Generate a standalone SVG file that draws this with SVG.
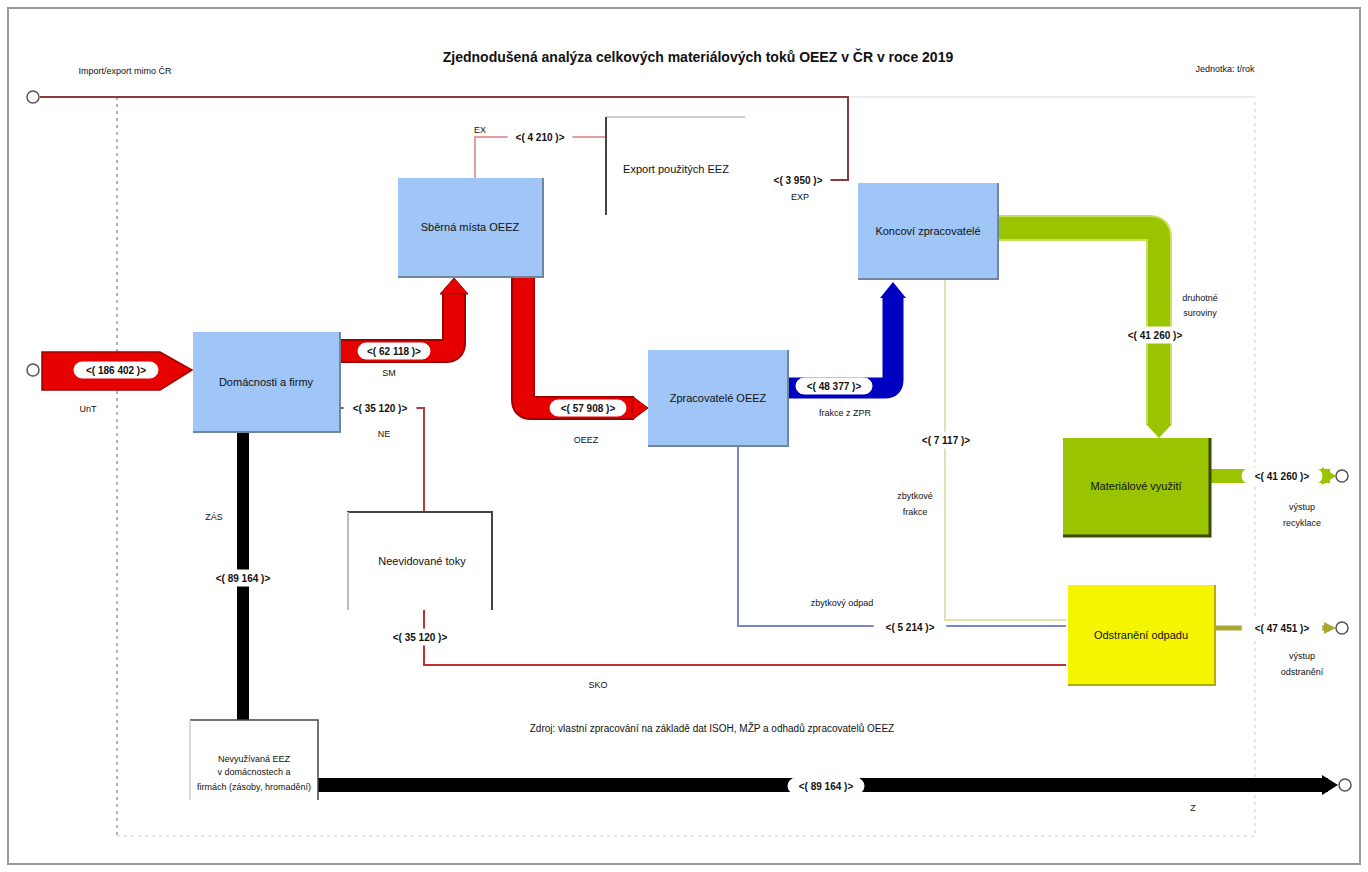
<svg xmlns="http://www.w3.org/2000/svg" width="1368" height="872" viewBox="0 0 1368 872">
<defs>
<style>
text{font-family:"Liberation Sans",Arial,sans-serif;fill:#111}
.nt{font-size:11px;text-anchor:middle}
.sm{font-size:9px;text-anchor:middle}
.lt{font-size:10px;text-anchor:middle;font-weight:bold}
.bl{fill:#9fc6f6;stroke:none}
.sh{fill:none;stroke:#70869c;stroke-width:2}
.lb rect{fill:#fff;stroke:#fff}
.lb line{stroke:#111;stroke-width:1.2}
.end{fill:#fff;stroke:#555;stroke-width:1.5}
.thin{fill:none;stroke-width:2}
</style>
<marker id="ah" viewBox="0 0 10 10" refX="9" refY="5" markerWidth="6" markerHeight="6" orient="auto"><path d="M0,0L10,5L0,10z" fill="#444"/></marker>
</defs>
<rect x="8" y="8" width="1352" height="856" fill="#fff" stroke="#9a9a9a" stroke-width="2"/>
<g id="boundary">
<line x1="117" y1="97" x2="117" y2="836" stroke="#999" stroke-width="1.5" stroke-dasharray="3,4"/>
<path d="M117,836H1255V97" fill="none" stroke="#ddd" stroke-width="1.5" stroke-dasharray="3,4"/>
<line x1="850" y1="97" x2="1255" y2="97" stroke="#e6e6e6" stroke-width="1.5"/>
</g>
<text x="698" y="62" style="font-size:14px;font-weight:bold;text-anchor:middle">Zjednodušená analýza celkových materiálových toků OEEZ v ČR v roce 2019</text>
<text x="125" y="74" class="sm">Import/export mimo ČR</text>
<text x="1225" y="72" class="sm">Jednotka: t/rok</text>
<text x="712" y="732" style="font-size:10px;text-anchor:middle">Zdroj: vlastní zpracování na základě dat ISOH, MŽP a odhadů zpracovatelů OEEZ</text>

<g id="connectors">
<!-- export line -->
<path d="M40,97H848V180H830" class="thin" stroke="#8c3c3c" stroke-width="1.5"/>
<path d="M475,178V137H606" class="thin" stroke="#e0a0a0" stroke-width="1.5"/>
<!-- input -->
<path d="M42,352H160L192,370L160,390H42z" fill="#e60000" stroke="#a00000" stroke-width="1.5"/>
<!-- 1 -> 2 -->
<path d="M340,351H446Q454,351 454,343V292" fill="none" stroke="#a00000" stroke-width="24"/>
<path d="M340,351H446Q454,351 454,343V292" fill="none" stroke="#e60000" stroke-width="20"/>
<path d="M440,294L454,278L468,294z" fill="#e60000" stroke="#a00000"/>
<!-- 2 -> 3 -->
<path d="M523,277V400Q523,408 531,408H634" fill="none" stroke="#a00000" stroke-width="24"/>
<path d="M523,277V400Q523,408 531,408H634" fill="none" stroke="#e60000" stroke-width="20"/>
<path d="M632,396L648,408L632,420z" fill="#e60000" stroke="#a00000"/>
<!-- 3 -> 4 -->
<path d="M788,388H885Q893,388 893,380V296" fill="none" stroke="#0000c0" stroke-width="21"/>
<path d="M880,298L893,282L906,298z" fill="#0000c0"/>
<!-- 4 -> recycling -->
<path d="M998,228H1150Q1159,228 1159,237V424" fill="none" stroke="#c8e060" stroke-width="26"/>
<path d="M998,228H1150Q1159,228 1159,237V424" fill="none" stroke="#9ac400" stroke-width="22"/>
<path d="M1146,424L1159,438L1172,424z" fill="#9ac400"/>
<!-- recycling out -->
<path d="M1210,476H1330" fill="none" stroke="#9ac400" stroke-width="14"/>
<path d="M1322,467L1336,476L1322,485z" fill="#9ac400"/>
<!-- yellow out -->
<path d="M1215,628H1330" fill="none" stroke="#a8a830" stroke-width="5"/>
<path d="M1324,622L1336,628L1324,634z" fill="#a8a830"/>
<!-- 3 -> yellow -->
<path d="M738,446V626H1066" class="thin" stroke="#7a86c8" stroke-width="1.8"/>
<!-- 4 -> yellow -->
<path d="M945,279V620H1066" class="thin" stroke="#e2e2b0" stroke-width="1.8"/>
<!-- 1 -> neevidovano -->
<path d="M340,408H424V512" class="thin" stroke="#b04040" stroke-width="1.8"/>
<!-- neevidovano -> yellow -->
<path d="M424,610V665H1066" class="thin" stroke="#c03030" stroke-width="2"/>
<!-- 1 -> bottom-left -->
<path d="M243,433V720" fill="none" stroke="#000" stroke-width="12"/>
<!-- bottom-left out -->
<path d="M318,785H1328" fill="none" stroke="#000" stroke-width="14"/>
<path d="M1322,775L1338,785L1322,795z" fill="#000"/>
</g>

<g id="ends">
<circle cx="33" cy="97" r="6" class="end"/>
<circle cx="33" cy="370" r="6" class="end"/>
<circle cx="1342" cy="476" r="6" class="end"/>
<circle cx="1342" cy="628" r="6" class="end"/>
<circle cx="1345" cy="785" r="6" class="end"/>
</g>

<g id="labels">
<g class="lb" transform="translate(116,370)"><rect x="-42" y="-8" width="84" height="16" rx="8"/><text class="lt" y="4">&lt;( 186 402 )&gt;</text></g>
<text x="88" y="412" class="sm">UnT</text>
<g class="lb" transform="translate(394,351)"><rect x="-36" y="-8" width="72" height="16" rx="8"/><text class="lt" y="4">&lt;( 62 118 )&gt;</text></g>
<text x="389" y="376" class="sm">SM</text>
<g class="lb" transform="translate(380,408)"><rect x="-36" y="-8" width="72" height="16" rx="8"/><text class="lt" y="4">&lt;( 35 120 )&gt;</text></g>
<text x="384" y="437" class="sm">NE</text>
<g class="lb" transform="translate(540,137)"><rect x="-32" y="-8" width="64" height="16" rx="8"/><text class="lt" y="4">&lt;( 4 210 )&gt;</text></g>
<text x="480" y="133" class="sm">EX</text>
<g class="lb" transform="translate(798,180)"><rect x="-32" y="-8" width="64" height="16" rx="8"/><text class="lt" y="4">&lt;( 3 950 )&gt;</text></g>
<text x="800" y="200" class="sm">EXP</text>
<g class="lb" transform="translate(588,408)"><rect x="-38" y="-8" width="76" height="16" rx="8"/><text class="lt" y="4">&lt;( 57 908 )&gt;</text></g>
<text x="586" y="443" class="sm">OEEZ</text>
<g class="lb" transform="translate(834,386)"><rect x="-38" y="-8" width="76" height="16" rx="8"/><text class="lt" y="4">&lt;( 48 377 )&gt;</text></g>
<text x="845" y="416" class="sm">frakce z ZPR</text>
<g class="lb" transform="translate(1155,335)"><rect x="-38" y="-8" width="76" height="16" rx="8"/><text class="lt" y="4">&lt;( 41 260 )&gt;</text></g>
<text x="1200" y="301" class="sm">druhotné</text>
<text x="1200" y="316" class="sm">suroviny</text>
<g class="lb" transform="translate(1282,476)"><rect x="-40" y="-8" width="80" height="16" rx="8"/><text class="lt" y="4">&lt;( 41 260 )&gt;</text></g>
<text x="1302" y="510" class="sm">výstup</text>
<text x="1302" y="526" class="sm">recyklace</text>
<g class="lb" transform="translate(1282,628)"><rect x="-40" y="-8" width="80" height="16" rx="8"/><text class="lt" y="4">&lt;( 47 451 )&gt;</text></g>
<text x="1302" y="659" class="sm">výstup</text>
<text x="1302" y="675" class="sm">odstranění</text>
<g class="lb" transform="translate(910,627)"><rect x="-36" y="-8" width="72" height="16" rx="8"/><text class="lt" y="4">&lt;( 5 214 )&gt;</text></g>
<text x="842" y="606" class="sm">zbytkový odpad</text>
<g class="lb" transform="translate(946,440)"><rect x="-36" y="-8" width="72" height="16" rx="8"/><text class="lt" y="4">&lt;( 7 117 )&gt;</text></g>
<text x="915" y="499" class="sm">zbytkové</text>
<text x="915" y="515" class="sm">frakce</text>
<g class="lb" transform="translate(420,637)"><rect x="-38" y="-8" width="76" height="16" rx="8"/><text class="lt" y="4">&lt;( 35 120 )&gt;</text></g>
<text x="598" y="688" class="sm">SKO</text>
<g class="lb" transform="translate(243,578)"><rect x="-38" y="-8" width="76" height="16" rx="8"/><text class="lt" y="4">&lt;( 89 164 )&gt;</text></g>
<text x="214" y="520" class="sm">ZÁS</text>
<g class="lb" transform="translate(826,786)"><rect x="-38" y="-8" width="76" height="16" rx="8"/><text class="lt" y="4">&lt;( 89 164 )&gt;</text></g>
<text x="1193" y="811" class="sm">Z</text>
</g>

<g id="node-domacnosti">
<rect x="193" y="332" width="147" height="100" class="bl"/>
<path d="M340,332V432H193" class="sh"/>
<text x="266" y="386" class="nt">Domácnosti a firmy</text>
</g>
<g id="node-sberna">
<rect x="398" y="178" width="145" height="99" class="bl"/>
<path d="M543,178V277H398" class="sh"/>
<text x="470" y="231" class="nt">Sběrná místa OEEZ</text>
</g>
<g id="node-zpracovatele">
<rect x="648" y="350" width="140" height="96" class="bl"/>
<path d="M788,350V446H648" class="sh"/>
<text x="718" y="402" class="nt">Zpracovatelé OEEZ</text>
</g>
<g id="node-koncovi">
<rect x="858" y="183" width="140" height="96" class="bl"/>
<path d="M998,183V279H858" class="sh"/>
<text x="928" y="235" class="nt">Koncoví zpracovatelé</text>
</g>
<g id="node-recyklace">
<rect x="1063" y="438" width="147" height="98" fill="#9ac400"/>
<path d="M1210,438V536H1063" fill="none" stroke="#3a4a00" stroke-width="3"/>
<text x="1136" y="490" class="nt">Materiálové využití</text>
</g>
<g id="node-odstraneni">
<rect x="1068" y="585" width="147" height="100" fill="#f5f500"/>
<path d="M1215,585V685H1068" fill="none" stroke="#b0b000" stroke-width="2"/>
<text x="1141" y="639" class="nt">Odstranění odpadu</text>
</g>
<g id="node-neevidovano">
<path d="M348,610V512H492V610" fill="none" stroke="#444" stroke-width="2"/>
<line x1="348" y1="512" x2="348" y2="610" stroke="#bbb" stroke-width="2"/>
<text x="422" y="565" class="nt">Neevidované toky</text>
</g>
<g id="node-export">
<line x1="606" y1="117" x2="745" y2="117" stroke="#ccc" stroke-width="2"/>
<line x1="606" y1="117" x2="606" y2="215" stroke="#444" stroke-width="2"/>
<text x="676" y="173" class="nt">Export použitých EEZ</text>
</g>
<g id="node-zasoby">
<path d="M190,720H318V800" fill="none" stroke="#444" stroke-width="1.5"/>
<line x1="190" y1="720" x2="190" y2="800" stroke="#ccc" stroke-width="1.5"/>
<text x="254" y="762" class="sm">Nevyužívaná EEZ</text>
<text x="254" y="775" class="sm">v domácnostech a</text>
<text x="254" y="790" class="sm">firmách (zásoby, hromadění)</text>
</g>
</svg>
